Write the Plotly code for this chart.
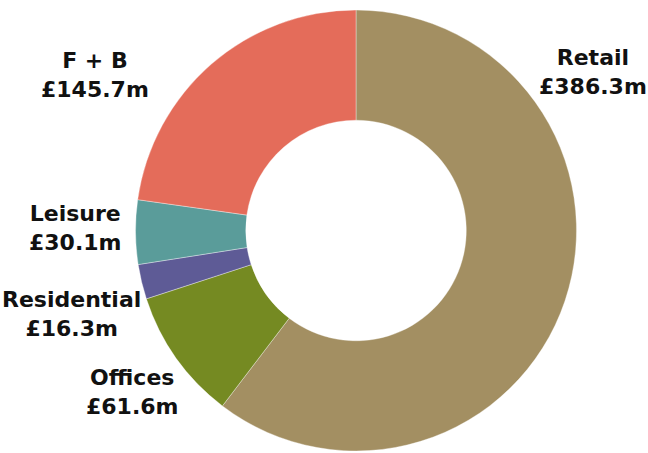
import plotly.graph_objects as go

# Investment by sector (£m), clockwise from 12 o'clock
sectors = ["Retail", "Offices", "Residential", "Leisure", "F + B"]
values = [386.3, 61.6, 16.3, 30.1, 145.7]
colors = ["#A38F62", "#758A22", "#5E5B96", "#5A9C9A", "#E46C5A"]

# label centre points (paper coords) for each sector
label_pos = [(0.915, 0.841), (0.205, 0.135), (0.111, 0.307), (0.116, 0.497), (0.147, 0.834)]

fig = go.Figure(go.Pie(
    labels=sectors,
    values=values,
    marker=dict(colors=colors, line=dict(color="rgba(255,255,255,0.6)", width=0.6)),
    hole=0.5,
    sort=False,
    direction="clockwise",
    rotation=0,
    textinfo="none",
    showlegend=False,
    domain=dict(x=[0.2091, 0.8897], y=[0.0044, 0.9779]),
))

for name, val, (px, py) in zip(sectors, values, label_pos):
    fig.add_annotation(
        x=px, y=py, xref="paper", yref="paper",
        xanchor="center", yanchor="middle",
        text=f"<b>{name}<br>£{val:.1f}m</b>",
        showarrow=False, align="center",
        font=dict(family="DejaVu Sans", size=22, color="#111111"),
    )

fig.update_layout(
    width=648, height=453,
    margin=dict(l=0, r=0, t=0, b=0),
    paper_bgcolor="white", plot_bgcolor="white",
)

fig.write_html("out.html")
